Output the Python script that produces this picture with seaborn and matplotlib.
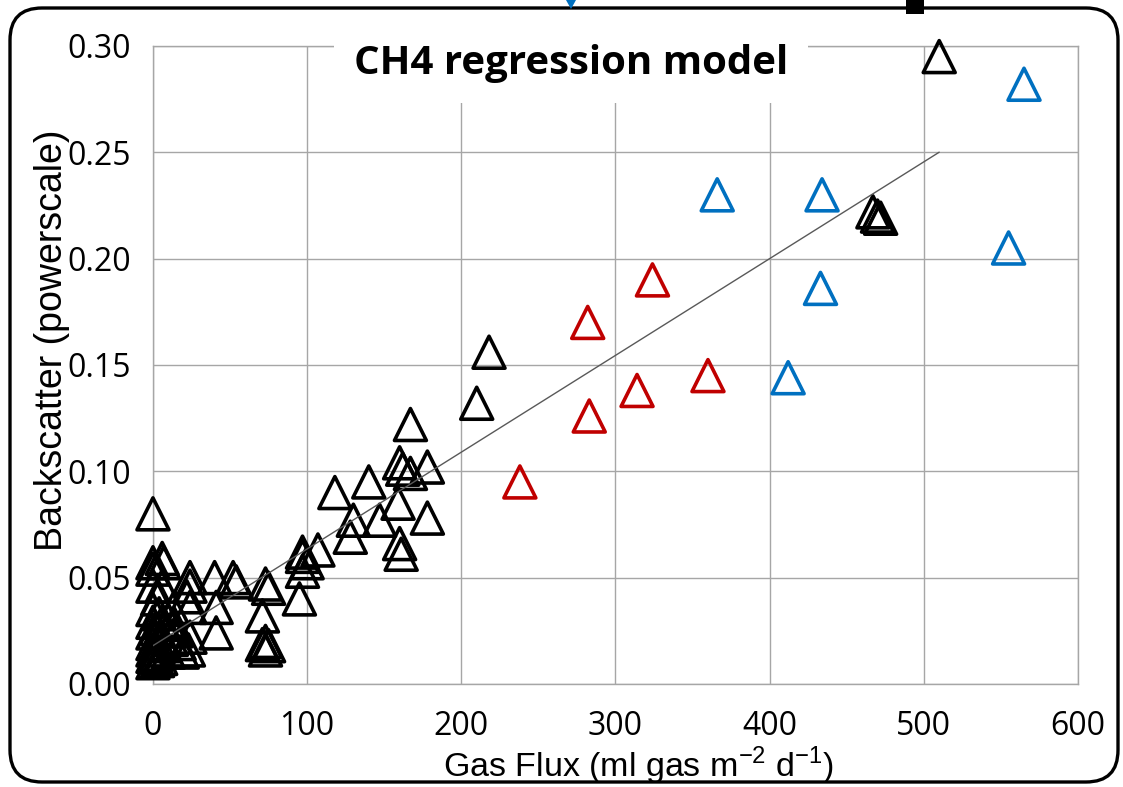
import numpy as np
import pandas as pd
import seaborn as sns
import matplotlib.pyplot as plt
from matplotlib.patches import FancyBboxPatch, Rectangle, Polygon

# data
black_flux = [0, 0, 0, 6, 7, 0, 6, 3, 24, 24, 22, 24, 40, 52, 54, 41, 41,
              73, 75, 71, 73, 71, 75, 73, 97, 97, 100, 97, 95, 107,
              118, 130, 128, 140, 147, 160, 162, 167, 178, 167, 159, 178, 160, 161,
              210, 218, 467, 470, 472, 510,
              0, 4, 13, 0, 6, 9, 0, 6, 15, 0, 4, 17, 24, 0, 2, 0, 3, 0, 5, 10,
              19, 23, 8, 12, 2, 10, 14]
black_bs = [0.080, 0.057, 0.054, 0.059, 0.057, 0.046, 0.046, 0.040, 0.050, 0.046,
            0.041, 0.036, 0.050, 0.050, 0.048, 0.036, 0.024,
            0.047, 0.045, 0.032, 0.020, 0.0185, 0.018, 0.016, 0.062, 0.060, 0.057,
            0.053, 0.040, 0.063,
            0.090, 0.077, 0.069, 0.095, 0.077, 0.104, 0.101, 0.099, 0.102, 0.122,
            0.085, 0.078, 0.066, 0.061,
            0.132, 0.156, 0.222, 0.220, 0.219, 0.295,
            0.035, 0.033, 0.035, 0.029, 0.029, 0.025, 0.024, 0.022, 0.025, 0.019,
            0.019, 0.019, 0.022, 0.016, 0.014, 0.013, 0.011, 0.010, 0.012, 0.015,
            0.015, 0.016, 0.018, 0.021, 0.026, 0.030, 0.028]

red_flux = [324, 282, 360, 314, 283, 238]
red_bs = [0.190, 0.170, 0.145, 0.138, 0.126, 0.095]

blue_flux = [565, 366, 434, 555, 433, 412]
blue_bs = [0.282, 0.230, 0.230, 0.205, 0.186, 0.144]

# trendline (Excel linear fit on the black points)
fit_slope = 0.000455
fit_intercept = 0.018
fit_x = np.array([0, 510])

x_ticks = [0, 100, 200, 300, 400, 500, 600]
y_ticks = [0.00, 0.05, 0.10, 0.15, 0.20, 0.25, 0.30]

df = pd.concat([
    pd.DataFrame({"flux": black_flux, "bs": black_bs, "grp": "black"}),
    pd.DataFrame({"flux": red_flux, "bs": red_bs, "grp": "red"}),
    pd.DataFrame({"flux": blue_flux, "bs": blue_bs, "grp": "blue"}),
])
colors = {"black": "#000000", "red": "#C00000", "blue": "#0070C0"}

sns.set_style("white")
plt.rcParams["font.family"] = ["Open Sans", "DejaVu Sans"]
plt.rcParams["text.color"] = "black"
plt.rcParams["axes.labelcolor"] = "black"
plt.rcParams["xtick.labelcolor"] = "black"
plt.rcParams["ytick.labelcolor"] = "black"
plt.rcParams["mathtext.fontset"] = "custom"
plt.rcParams["mathtext.rm"] = "Liberation Sans"

fig = plt.figure(figsize=(11.23, 7.87), dpi=100)
ax = fig.add_axes([0.1362, 0.1309, 0.8237, 0.8107])

gridc = "#a6a6a6"
ax.grid(True, color=gridc, lw=1.0)
ax.set_axisbelow(True)
for s in ax.spines.values():
    s.set_color(gridc)
    s.set_linewidth(1.0)

for g, sub in df.groupby("grp", sort=False):
    sns.scatterplot(data=sub, x="flux", y="bs", marker="^", s=529,
                    facecolor="none", edgecolor=colors[g], linewidth=2.6,
                    ax=ax, clip_on=False, zorder=3, legend=False)

sns.lineplot(x=fit_x, y=fit_intercept + fit_slope * fit_x, color="#595959",
             lw=1.0, ax=ax, zorder=4)

ax.set_xlim(0, 600)
ax.set_ylim(0, 0.30)
ax.set_xticks(x_ticks)
ax.set_yticks(y_ticks)
ax.set_xticklabels([str(v) for v in x_ticks])
ax.set_yticklabels([f"{v:.2f}" for v in y_ticks])
ax.tick_params(axis="x", length=6.5, color=gridc, width=1.0, pad=12, labelsize=23)
ax.tick_params(axis="y", length=0, pad=16, labelsize=23)

ax.set_xlabel(r"Gas Flux (ml gas m$^{\mathregular{-2}}$ d$^{\mathregular{-1}}$)",
              fontsize=24.5, family="Liberation Sans")
ax.set_ylabel("Backscatter (powerscale)", fontsize=27, family="Liberation Sans")
ax.xaxis.set_label_coords(0.525, -0.096)
ax.yaxis.set_label_coords(-0.09, 0.538)

ax.text(0.452, 0.972, "CH4 regression model", transform=ax.transAxes,
        ha="center", va="center", fontsize=29, fontweight="bold", zorder=5,
        bbox=dict(boxstyle="square,pad=0.5", fc="white", ec="none"))

# slide frame and clipped shapes at the top edge
fig.patches.append(FancyBboxPatch((0.10, 0.05), 11.08, 7.74,
                                  boxstyle="round,pad=0,rounding_size=0.32",
                                  fc="none", ec="black", lw=2.4,
                                  transform=fig.dpi_scale_trans))
fig.patches.append(Rectangle((9.06, 7.73), 0.18, 0.14, fc="black", ec="none",
                             transform=fig.dpi_scale_trans))
fig.patches.append(Polygon([(5.66, 7.87), (5.76, 7.87), (5.71, 7.78)],
                           fc="#0070C0", ec="none", transform=fig.dpi_scale_trans))

fig.savefig("out.png", dpi=100)
plt.close(fig)
